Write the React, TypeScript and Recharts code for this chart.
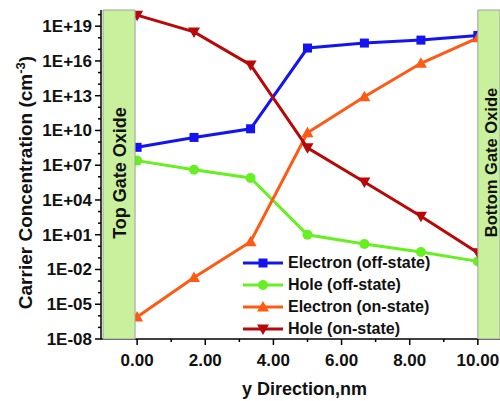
import React from 'react';
import { LineChart, Line, XAxis, YAxis, ReferenceArea } from 'recharts';

// positions along y direction (nm)
const positions = [0, 1.67, 3.33, 5, 6.67, 8.33, 10];

// carrier concentrations (cm^-3)
const electronOff = [3.5e8, 2.5e9, 1.4e10, 1.3e17, 3.5e17, 6.3e17, 1.6e18];
const holeOff = [2.5e7, 4e6, 8e5, 10, 1.6, 0.32, 0.05];
const electronOn = [8e-7, 2e-3, 2.5, 6.3e9, 8e12, 6.3e15, 1e18];
const holeOn = [9e19, 3.2e18, 4.5e15, 3.2e8, 3.5e5, 400, 0.28];

const xTicks = [0, 1, 2, 3, 4, 5, 6, 7, 8, 9, 10];
const yExponents = [-8, -7, -6, -5, -4, -3, -2, -1, 0, 1, 2, 3, 4, 5, 6, 7, 8, 9, 10, 11, 12, 13, 14, 15, 16, 17, 18, 19, 20];
const yTicks = yExponents.map((e) => Math.pow(10, e));

const series = [
  { key: 'electronOff', name: 'Electron (off-state)', color: '#1414f0', shape: 'square' },
  { key: 'holeOff', name: 'Hole (off-state)', color: '#66f022', shape: 'circle' },
  { key: 'electronOn', name: 'Electron (on-state)', color: '#ff5a14', shape: 'up' },
  { key: 'holeOn', name: 'Hole (on-state)', color: '#b80808', shape: 'down' },
];

const data = positions.map((x, i) => ({
  x,
  electronOff: electronOff[i],
  holeOff: holeOff[i],
  electronOn: electronOn[i],
  holeOn: holeOn[i],
}));

const FONT = 'Arial, "Liberation Sans", sans-serif';
const BOX_FILL = '#c9f09c';

const fmtExp = (e: number) => `1E${e < 0 ? '-' : '+'}${String(Math.abs(e)).padStart(2, '0')}`;

const Marker = ({ cx, cy, shape, color }: any) => {
  if (cx == null || cy == null) return null;
  if (shape === 'square') return <rect x={cx - 4.5} y={cy - 4.5} width={9} height={9} fill={color} />;
  if (shape === 'circle') return <circle cx={cx} cy={cy} r={5} fill={color} />;
  if (shape === 'up') return <path d={`M${cx},${cy - 6} L${cx + 6},${cy + 4.5} L${cx - 6},${cy + 4.5} Z`} fill={color} />;
  return <path d={`M${cx},${cy + 6} L${cx + 6},${cy - 4.5} L${cx - 6},${cy - 4.5} Z`} fill={color} />;
};

const YTick = ({ x, y, payload }: any) => {
  const e = Math.round(Math.log10(payload.value));
  const major = (e + 8) % 3 === 0;
  return (
    <g>
      <line x1={x - (major ? 6 : 3)} x2={x} y1={y} y2={y} stroke="#000" strokeWidth={1.5} />
      {major && (
        <text x={x - 9} y={y} dy="0.35em" textAnchor="end" fontFamily={FONT} fontWeight="bold" fontSize={17} fill="#111">
          {fmtExp(e)}
        </text>
      )}
    </g>
  );
};

const XTick = ({ x, y, payload }: any) => {
  const major = payload.value % 2 === 0;
  return (
    <g>
      <line x1={x} x2={x} y1={y} y2={y + (major ? 6 : 3)} stroke="#000" strokeWidth={1.5} />
      {major && (
        <text x={x} y={y + 27} textAnchor="middle" fontFamily={FONT} fontWeight="bold" fontSize={17} fill="#111">
          {payload.value.toFixed(2)}
        </text>
      )}
    </g>
  );
};

const boxLabel = (text: string, dx: number, dy: number, size: number) => (p: any) => {
  const vb = p.viewBox;
  const cx = vb.x + dx;
  const cy = vb.y + vb.height / 2 + dy;
  return (
    <text x={cx} y={cy} transform={`rotate(-90 ${cx} ${cy})`} textAnchor="middle" dominantBaseline="central"
      fontFamily={FONT} fontWeight="bold" fontSize={size} fill="#111">
      {text}
    </text>
  );
};

const LegendBox = () => (
  <div style={{ position: 'absolute', left: 235, top: 244, fontFamily: FONT, fontWeight: 'bold', fontSize: 16, color: '#111' }}>
    {series.map((s) => (
      <div key={s.key} style={{ display: 'flex', alignItems: 'center', height: 22 }}>
        <svg width={45} height={16}>
          <line x1={0} x2={40} y1={8} y2={8} stroke={s.color} strokeWidth={3} />
          <Marker cx={20} cy={8} shape={s.shape} color={s.color} />
        </svg>
        <span style={{ whiteSpace: 'nowrap' }}>{s.name}</span>
      </div>
    ))}
  </div>
);

export default function App() {
  return (
    <div style={{ width: 500, height: 401, paddingLeft: 8, paddingTop: 8, boxSizing: 'border-box', overflow: 'hidden' }}>
      <style>{'body{margin:0}'}</style>
      <div style={{ position: 'relative', width: 492, height: 393 }}>
        <LineChart width={492} height={393} data={data} margin={{ top: 2, right: 0, bottom: 0, left: 0 }}>
          <XAxis
            type="number"
            dataKey="x"
            domain={[-1.06, 10.65]}
            ticks={xTicks}
            interval={0}
            allowDataOverflow
            height={62}
            tickSize={0}
            tickMargin={0}
            tickLine={false}
            tick={XTick}
            axisLine={{ stroke: '#000', strokeWidth: 1.5 }}
            label={(p: any) => (
              <text x={p.viewBox.x + p.viewBox.width / 2 + 4} y={p.viewBox.y + 56} textAnchor="middle"
                fontFamily={FONT} fontWeight="bold" fontSize={18} fill="#111">
                y Direction,nm
              </text>
            )}
          />
          <YAxis
            scale="log"
            domain={[1e-8, 2.5e20]}
            ticks={yTicks}
            interval={0}
            allowDataOverflow
            width={93}
            tickSize={0}
            tickMargin={0}
            tickLine={false}
            tick={YTick}
            axisLine={{ stroke: '#000', strokeWidth: 1.5 }}
            label={(p: any) => {
              const cx = p.viewBox.x + 24;
              const cy = p.viewBox.y + p.viewBox.height / 2 + 8;
              return (
                <text x={cx} y={cy} transform={`rotate(-90 ${cx} ${cy})`} textAnchor="middle"
                  fontFamily={FONT} fontWeight="bold" fontSize={19} fill="#111">
                  Carrier Concentration (cm<tspan dy={-7} fontSize={13}>-3</tspan><tspan dy={7}>)</tspan>
                </text>
              );
            }}
          />
          {series.map((s) => (
            <Line
              key={s.key}
              type="linear"
              dataKey={s.key}
              name={s.name}
              stroke={s.color}
              strokeWidth={3}
              isAnimationActive={false}
              dot={(p: any) => <Marker key={`${s.key}-${p.index}`} cx={p.cx} cy={p.cy} shape={s.shape} color={s.color} />}
              activeDot={false}
            />
          ))}
          <ReferenceArea x1={-1.0} x2={-0.06} y1={1e-8} y2={2.5e20} fill={BOX_FILL} fillOpacity={1}
            stroke="#a0a0a0" strokeWidth={1} zIndex={1500} label={boxLabel('Top Gate Oxide', 17, -1.5, 18)} />
          <ReferenceArea x1={10} x2={10.65} y1={1e-8} y2={2.5e20} fill={BOX_FILL} fillOpacity={1}
            stroke="#a0a0a0" strokeWidth={1} zIndex={1500} label={boxLabel('Bottom Gate Oxide', 13.5, -12, 16.5)} />
        </LineChart>
        <LegendBox />
      </div>
    </div>
  );
}
